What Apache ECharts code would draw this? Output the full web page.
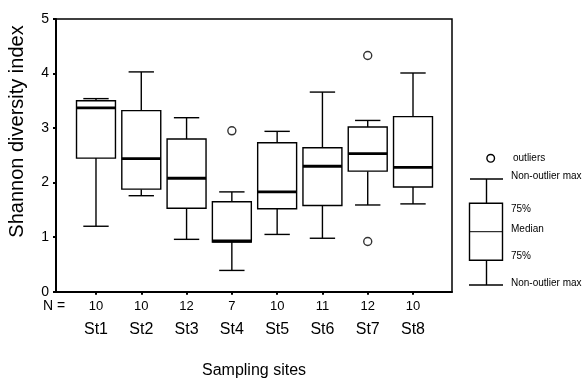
<!DOCTYPE html>
<html><head><meta charset="utf-8">
<script src="https://cdn.jsdelivr.net/npm/echarts@6/dist/echarts.min.js"></script>
<style>html,body{margin:0;padding:0;background:#fff}#c{width:587px;height:380px}</style>
</head><body><div id="c"></div>
<script>
const sites = ['St1','St2','St3','St4','St5','St6','St7','St8'];
const nCounts = [10,10,12,7,10,11,12,10];
const lowWhisker = [1.20,1.76,0.96,0.39,1.05,0.98,1.59,1.61];
const q1 = [2.45,1.88,1.53,0.91,1.52,1.58,2.21,1.92];
const medians = [3.37,2.44,2.08,0.93,1.83,2.30,2.53,2.28];
const q3 = [3.50,3.32,2.80,1.65,2.73,2.64,3.02,3.21];
const highWhisker = [3.54,4.03,3.19,1.83,2.94,3.66,3.14,4.01];
const outlierSite = ['St4','St7','St7'];
const outlierVal = [2.95,4.33,0.92];

const boxData = sites.map((s,i)=>[i+1, lowWhisker[i], q1[i], medians[i], q3[i], highWhisker[i]]);
const outData = outlierSite.map((s,k)=>[sites.indexOf(s)+1, outlierVal[k]]);
const font = '"Liberation Sans", Arial, sans-serif';

const chart = echarts.init(document.getElementById('c'));
chart.setOption({
  animation:false,
  textStyle:{fontFamily:font,color:'#000'},
  grid:{left:56,right:135,top:19,bottom:88.3,outerBoundsMode:'none',containLabel:false,show:true,borderColor:'#000',borderWidth:1.5,backgroundColor:'transparent'},
  xAxis:{type:'value',min:0.117,max:8.861,
    splitLine:{show:false},
    axisLine:{show:true,onZero:false,lineStyle:{color:'#000',width:2}},
    axisTick:{show:true,customValues:sites.map((s,i)=>i+1),length:3,lineStyle:{color:'#000',width:2}},
    axisLabel:{customValues:sites.map((s,i)=>i+1),margin:4,
      formatter:v=>{const i=Math.round(v)-1;return '{n|'+nCounts[i]+'}\n{s|'+sites[i]+'}';},
      rich:{n:{fontSize:13,lineHeight:22,fontFamily:font,color:'#000'},s:{fontSize:16,lineHeight:23,fontFamily:font,color:'#000'}}},
    name:'Sampling sites',nameLocation:'middle',nameGap:71,nameTextStyle:{fontSize:16,color:'#000',fontFamily:font}
  },
  yAxis:{type:'value',min:0,max:5,interval:1,
    splitLine:{show:false},
    axisLine:{show:true,lineStyle:{color:'#000',width:2}},
    axisTick:{show:true,length:3,lineStyle:{color:'#000',width:2}},
    axisLabel:{fontSize:14,margin:7,color:'#000',fontFamily:font}
  },
  series:[{
    type:'custom',
    data:boxData,
    encode:{x:0,y:[1,2,3,4,5]},
    renderItem:function(params,api){
      const x=api.value(0);
      const unit=api.size([1,0])[0];
      const bw=unit*0.43, cw=unit*0.28;
      const pL=api.coord([x,api.value(1)]), pQ1=api.coord([x,api.value(2)]), pM=api.coord([x,api.value(3)]),
            pQ3=api.coord([x,api.value(4)]), pH=api.coord([x,api.value(5)]);
      const cx=pM[0];
      const st={stroke:'#000',lineWidth:1.4,fill:null};
      return {type:'group',children:[
        {type:'line',shape:{x1:cx,y1:pH[1],x2:cx,y2:pQ3[1]},style:st},
        {type:'line',shape:{x1:cx-cw,y1:pH[1],x2:cx+cw,y2:pH[1]},style:st},
        {type:'line',shape:{x1:cx,y1:pL[1],x2:cx,y2:pQ1[1]},style:st},
        {type:'line',shape:{x1:cx-cw,y1:pL[1],x2:cx+cw,y2:pL[1]},style:st},
        {type:'rect',shape:{x:cx-bw,y:pQ3[1],width:2*bw,height:pQ1[1]-pQ3[1]},style:{stroke:'#000',lineWidth:1.4,fill:'#fff'}},
        {type:'line',shape:{x1:cx-bw,y1:pM[1],x2:cx+bw,y2:pM[1]},style:{stroke:'#000',lineWidth:2.8}}
      ]};
    }
  },{
    type:'scatter',data:outData,symbol:'circle',symbolSize:8,
    itemStyle:{color:'#fff',borderColor:'#000',borderWidth:1.4}
  }],
  graphic:[
    {type:'text',x:17,y:131.5,rotation:Math.PI/2,style:{text:'Shannon diversity index',fontSize:20,fontFamily:font,fill:'#000',align:'center',verticalAlign:'middle'}},
    {type:'text',x:43,y:306.5,style:{text:'N =',fontSize:14,fontFamily:font,fill:'#000',verticalAlign:'middle'}},
    {type:'circle',shape:{cx:490.7,cy:158.3,r:3.8},style:{fill:'#fff',stroke:'#000',lineWidth:1.4}},
    {type:'text',x:513,y:158,style:{text:'outliers',fontSize:10,fontFamily:font,fill:'#000',verticalAlign:'middle'}},
    {type:'line',shape:{x1:470,y1:179,x2:503,y2:179},style:{stroke:'#000',lineWidth:1.4}},
    {type:'line',shape:{x1:486.5,y1:179,x2:486.5,y2:203.3},style:{stroke:'#000',lineWidth:1.4}},
    {type:'rect',shape:{x:469.5,y:203.3,width:33,height:57},style:{stroke:'#000',lineWidth:1.4,fill:'#fff'}},
    {type:'line',shape:{x1:469.5,y1:231.7,x2:502.5,y2:231.7},style:{stroke:'#000',lineWidth:1}},
    {type:'line',shape:{x1:486.5,y1:260.3,x2:486.5,y2:285},style:{stroke:'#000',lineWidth:1.4}},
    {type:'line',shape:{x1:469,y1:285,x2:503,y2:285},style:{stroke:'#000',lineWidth:1.4}},
    {type:'text',x:511,y:176.5,style:{text:'Non-outlier max',fontSize:10,fontFamily:font,fill:'#000',verticalAlign:'middle'}},
    {type:'text',x:511,y:209.5,style:{text:'75%',fontSize:10,fontFamily:font,fill:'#000',verticalAlign:'middle'}},
    {type:'text',x:511,y:229,style:{text:'Median',fontSize:10,fontFamily:font,fill:'#000',verticalAlign:'middle'}},
    {type:'text',x:511,y:256.5,style:{text:'75%',fontSize:10,fontFamily:font,fill:'#000',verticalAlign:'middle'}},
    {type:'text',x:511,y:283,style:{text:'Non-outlier max',fontSize:10,fontFamily:font,fill:'#000',verticalAlign:'middle'}}
  ]
});
</script></body></html>
